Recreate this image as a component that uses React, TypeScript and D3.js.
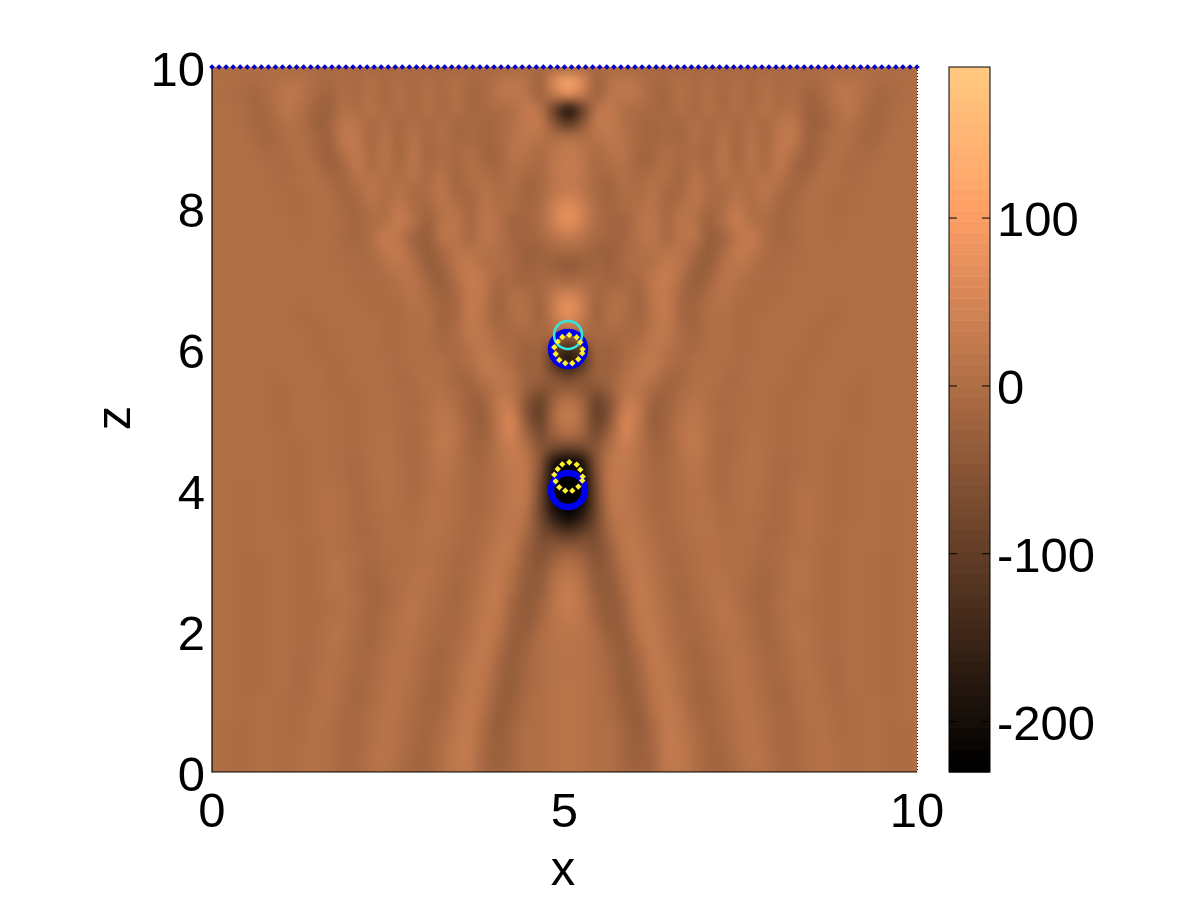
import React from "react";
import * as d3 from "d3";

// Field values. Each row is one z level (10 down to 0, step 0.2);
// each column is a distance from the central axis (0 to 5, step 0.2). The field is mirror-symmetric.
const fieldRows: number[][] = [
  [-20,-12,-10,-6,-8,-10,-7,-10,-8,-7,-8,-7,-8,-7,-7,-8,-7,-7,-6,-6,-5,-5,-5,-4,-3,-3],
  [140,70,-28,8,24,10,-7,-12,8,-9,6,-11,4,-11,7,-7,4,-9,-6,11,8,3,-6,-4,0,0],
  [80,30,-32,14,24,16,-8,-14,11,-11,11,-14,8,-14,11,-8,6,-22,-11,14,20,3,-14,-8,-3,0],
  [-230,-100,20,28,-4,-3,-11,-17,7,-14,14,-17,11,-11,14,-6,8,-30,-20,6,21,-3,-20,-6,0,3],
  [-120,-50,28,30,0,-11,-17,-6,-17,8,-17,11,-14,8,-11,14,21,-24,-30,0,11,-11,-17,-3,3,4],
  [18,6,8,24,7,-8,-14,-8,-20,11,-17,14,-20,14,-14,20,32,-30,-8,6,3,-14,-8,0,4,3],
  [30,18,-6,8,14,-14,-20,6,-11,-6,-14,20,-22,20,-11,28,8,-32,-7,8,-6,-11,-4,3,3,1],
  [34,20,-8,3,11,-17,-8,11,-20,11,-14,22,-11,14,-8,32,-17,-30,3,6,-8,-6,0,3,1,0],
  [28,15,-12,-20,8,-11,8,6,-22,20,-8,11,6,0,14,11,-20,-8,8,0,-6,-3,3,3,0,0],
  [36,20,-8,-25,6,-3,14,-14,-11,21,-6,-11,17,-6,20,-7,-17,0,6,-3,-3,0,3,1,0,0],
  [76,40,-6,-17,-6,0,17,-20,11,14,-20,-3,30,-3,8,-14,-7,3,3,-3,-1,0,1,0,0,0],
  [84,45,-3,-14,-25,8,25,-20,20,11,-28,8,34,0,-6,-20,-3,3,0,-1,0,1,1,0,0,0],
  [32,14,-12,-20,-20,11,22,-17,17,22,-34,-26,18,34,3,-14,-8,3,0,-1,0,1,0,0,0,0],
  [-6,-12,-25,-28,-8,6,11,11,14,-8,-38,-11,26,20,-6,-8,-4,1,0,0,0,0,0,0,0,0],
  [-50,-28,-14,-30,-6,3,6,28,14,-26,-36,8,24,8,-8,-6,-1,1,0,1,0,0,0,0,0,0],
  [-15,-12,-8,-22,-8,-11,20,36,6,-36,-20,14,11,-3,-6,-3,0,3,0,1,0,0,0,0,0,0],
  [44,20,-16,-6,3,-25,25,28,-8,-32,-6,14,3,-6,-4,-1,1,3,1,0,0,0,0,0,0,0],
  [90,40,-32,11,11,-28,14,36,-14,-14,6,8,-4,-6,-3,0,3,3,0,-1,0,0,0,0,0,0],
  [66,25,-24,8,-6,-17,8,30,-8,-22,8,3,-4,-4,0,1,3,0,-1,-1,0,1,0,0,0,0],
  [-10,-6,-8,-11,-11,-11,20,20,-6,-20,6,3,-6,-3,1,3,1,-1,-3,0,1,1,0,0,0,0],
  [-170,-100,-10,-30,-6,6,22,11,-11,-11,3,4,-6,-1,3,3,0,-3,-1,0,1,0,0,0,0,0],
  [-200,-130,-14,-32,-3,18,26,0,-11,0,6,0,-6,0,4,1,-1,-3,0,1,1,0,0,0,0,0],
  [-80,-50,-26,-24,10,20,16,-14,-14,3,8,-3,-7,1,4,0,-3,-3,1,3,0,-1,0,0,0,0],
  [-15,-40,-65,-32,18,16,-10,-22,-6,8,6,-6,-6,3,4,-1,-4,-1,3,3,-1,-1,0,1,0,0],
  [30,-6,-110,-55,38,26,-28,-22,6,16,3,-8,-4,4,4,-3,-4,0,4,1,-1,-1,0,1,0,0],
  [38,0,-105,-48,60,24,-38,-20,11,22,3,-6,-6,4,6,-3,-6,0,6,1,-3,-1,1,1,0,0],
  [12,-20,-85,-14,58,16,-32,-16,14,24,0,-8,-3,7,4,-4,-6,1,6,0,-3,0,1,0,0,0],
  [-80,-70,-50,12,38,12,-20,-14,11,26,0,-10,-1,8,3,-6,-4,3,6,-1,-3,0,3,0,0,0],
  [-230,-210,-45,22,28,10,-16,-8,8,18,0,-10,0,8,1,-7,-3,4,4,-3,-3,1,3,0,0,0],
  [-230,-230,-55,32,24,8,-10,-8,6,13,3,-10,1,9,0,-8,-1,6,3,-3,-3,1,3,0,0,0],
  [-230,-230,-70,28,22,6,-8,-10,3,10,6,-8,3,8,-1,-8,0,7,3,-4,-3,3,3,-1,0,0],
  [-230,-220,-75,22,20,8,-8,-13,3,8,8,-6,4,7,-4,-8,1,7,1,-4,-1,3,1,-1,0,0],
  [-220,-170,-75,10,22,12,-6,-13,0,8,10,-3,4,6,-6,-8,3,7,0,-6,-1,4,1,-1,0,0],
  [-120,-95,-72,-6,24,18,-3,-13,-3,8,10,0,6,3,-8,-7,4,7,0,-6,0,4,0,-1,0,1],
  [-40,-45,-64,-22,22,20,3,-13,-6,6,12,3,4,0,-10,-6,6,8,-1,-6,0,4,0,-3,0,1],
  [5,-14,-55,-32,14,24,8,-10,-8,3,10,6,3,-3,-13,-4,7,8,-3,-6,1,4,-1,-3,1,1],
  [22,2,-46,-38,4,28,12,-6,-13,0,8,8,3,-6,-14,-3,8,7,-3,-6,1,3,-1,-3,1,1],
  [34,12,-36,-42,-6,30,15,-3,-14,-3,8,10,3,-7,-16,-1,9,7,-4,-6,3,3,-3,-3,3,1],
  [36,18,-26,-44,-14,28,19,0,-14,-6,6,13,4,-7,-16,0,11,6,-6,-6,3,3,-3,-3,3,0],
  [28,18,-14,-40,-24,22,24,3,-11,-8,0,13,7,-6,-16,-3,11,6,-6,-4,4,3,-3,-1,3,0],
  [18,14,-6,-34,-32,14,27,6,-8,-11,-3,11,10,-3,-15,-6,10,7,-6,-4,4,3,-4,-1,3,0],
  [14,12,0,-26,-36,4,27,11,-6,-14,-6,8,12,0,-14,-8,7,8,-4,-6,4,4,-4,-1,3,0],
  [12,12,3,-20,-38,-8,26,16,-3,-16,-8,6,14,3,-11,-11,4,10,-3,-7,3,4,-3,-3,3,0],
  [12,10,5,-12,-38,-18,22,21,0,-16,-11,3,14,6,-8,-12,1,10,0,-7,1,6,-3,-3,3,1],
  [14,10,5,-8,-34,-26,15,25,6,-16,-14,0,12,8,-6,-14,-1,10,3,-7,0,6,-1,-4,3,1],
  [14,10,5,-4,-28,-32,8,28,11,-14,-18,-3,11,11,-3,-14,-4,8,4,-6,-1,6,0,-4,1,3],
  [14,10,5,-2,-24,-34,0,30,14,-8,-20,-6,8,12,0,-12,-7,7,7,-4,-4,6,1,-4,0,3],
  [14,10,5,0,-20,-34,-8,30,18,-6,-20,-8,6,14,3,-11,-8,6,8,-3,-6,4,3,-3,-1,3],
  [14,10,5,0,-16,-32,-12,28,21,0,-20,-11,3,14,6,-10,-10,4,10,0,-6,3,4,-3,-3,3],
  [14,10,5,0,-14,-28,-16,26,24,3,-18,-14,0,14,7,-8,-11,3,10,1,-6,1,6,-3,-3,3],
  [14,10,5,0,-12,-24,-18,24,24,6,-16,-14,-1,12,8,-7,-11,1,10,3,-6,0,6,-1,-3,3],
];
const rowZ: number[] = fieldRows.map((_, i) => 10 - i * 0.2);
const axisOffsets: number[] = fieldRows[0].map((_, j) => j * 0.2);

const fieldCentreX = 5.05;
const xTicks = [0, 5, 10];
const zTicks = [0, 2, 4, 6, 8, 10];
const barTicks = [100, 0, -100, -200];
const barDomain: [number, number] = [-230, 190];

const topPointsX: number[] = Array.from({ length: 101 }, (_, i) => i / 10);
const ringCentresX = [5.05, 5.05];
const ringCentresZ = [6, 4];
const cyanCentreX = [5.05];
const cyanCentreZ = [6.2];
const yellowX = [5.068,5.173,5.224,5.258,5.252,5.196,5.111,5.011,4.926,4.875,4.855,4.904,4.969];
const yellowUpperZ = [6.199,6.166,6.095,5.996,5.939,5.854,5.797,5.797,5.844,5.929,6.024,6.104,6.170];
const yellowLowerZ = [4.393,4.360,4.289,4.190,4.133,4.048,3.991,3.991,4.038,4.123,4.218,4.298,4.364];

const LEVELS = 64;
const copper = (t: number) => {
  const q = Math.min(LEVELS - 1, Math.max(0, Math.floor(t * LEVELS))) / (LEVELS - 1);
  const r = Math.min(1, 1.25 * q), g = 0.7812 * q, b = 0.4975 * q;
  return d3.rgb(r * 255, g * 255, b * 255).formatHex();
};

const L = 212, R = 917, T = 67, B = 772;
const x = d3.scaleLinear().domain([0, 10]).range([L, R]);
const z = d3.scaleLinear().domain([0, 10]).range([B, T]);
const barY = d3.scaleLinear().domain(barDomain).range([B, T]);
const tone = d3.scaleLinear().domain(barDomain).range([0, 1]).clamp(true);
const color = (v: number) => copper(tone(v));
const diamond = (cx: number, cy: number, r: number) =>
  `M${cx},${cy - r}L${cx + r},${cy}L${cx},${cy + r}L${cx - r},${cy}Z`;

const font = "'Liberation Sans', Arial, sans-serif";
const FS = 49;

export default function App() {
  const cellW = Math.abs(x(0.2) - x(0));
  const cellH = Math.abs(z(0) - z(0.2));
  const cells: React.ReactNode[] = [];
  fieldRows.forEach((row, i) => {
    axisOffsets.forEach((d, j) => {
      const v = row[j] ?? 0;
      const sides = d === 0 ? [fieldCentreX] : [fieldCentreX - d, fieldCentreX + d];
      sides.forEach((sx, k) => {
        cells.push(
          <rect key={`${i}-${j}-${k}`} x={x(sx) - cellW / 2} y={z(rowZ[i]) - cellH / 2}
            width={cellW + 0.5} height={cellH + 0.5} fill={color(v)} />
        );
      });
    });
  });
  const bands = d3.range(LEVELS);
  const bandH = (B - T) / LEVELS;
  const barX0 = 949, barX1 = 990;

  return (
    <svg width={1200} height={900} style={{ position: "absolute", left: 0, top: 0, background: "#fff" }}>
      <defs>
        <clipPath id="plot"><rect x={L} y={T} width={R - L} height={B - T} /></clipPath>
        <filter id="soft" filterUnits="userSpaceOnUse" x={100} y={0} width={950} height={850} colorInterpolationFilters="sRGB">
          <feGaussianBlur stdDeviation={6.5} />
        </filter>
      </defs>
      <g clipPath="url(#plot)">
        <g filter="url(#soft)">
          <rect x={L - 40} y={T - 40} width={R - L + 80} height={B - T + 80} fill={color(0)} />
          {cells}
        </g>
      </g>
      <line x1={L} y1={T} x2={L} y2={B + 0.5} stroke="#000" strokeWidth={1.2} />
      <line x1={L} y1={B} x2={R} y2={B} stroke="#000" strokeWidth={1.2} />
      <line x1={R + 0.5} y1={T} x2={R + 0.5} y2={B} stroke="#000" strokeWidth={1} strokeDasharray="1 2" />

      {ringCentresX.map((cx, i) => (
        <circle key={i} cx={x(cx)} cy={z(ringCentresZ[i])} r={17} fill="none" stroke="#0000f0" strokeWidth={6.5} />
      ))}
      {cyanCentreX.map((cx, i) => (
        <circle key={i} cx={x(cx)} cy={z(cyanCentreZ[i])} r={14} fill="none" stroke="#30e8e0" strokeWidth={2.5} />
      ))}
      {yellowX.map((px, i) => (
        <path key={`u${i}`} d={diamond(x(px), z(yellowUpperZ[i]), 3.2)} fill="#fff030" />
      ))}
      {yellowX.map((px, i) => (
        <path key={`l${i}`} d={diamond(x(px), z(yellowLowerZ[i]), 3.2)} fill="#fff030" />
      ))}
      {topPointsX.map((px, i) => (
        <path key={`t${i}`} d={diamond(x(px), z(10), 2.8)} fill="#0000c8" />
      ))}

      {bands.map((b) => (
        <rect key={b} x={barX0} y={B - (b + 1) * bandH} width={barX1 - barX0} height={bandH + 0.5}
          fill={copper((b + 0.5) / LEVELS)} />
      ))}
      <rect x={barX0} y={T} width={barX1 - barX0} height={B - T} fill="none" stroke="#000" strokeWidth={1} />
      {barTicks.map((t) => (
        <g key={t}>
          <line x1={barX0} x2={barX0 + 8} y1={barY(t)} y2={barY(t)} stroke="#000" strokeWidth={1} />
          <line x1={barX1 - 8} x2={barX1} y1={barY(t)} y2={barY(t)} stroke="#000" strokeWidth={1} />
          <text x={997} y={barY(t) + 18} fontFamily={font} fontSize={FS} fill="#000">{t}</text>
        </g>
      ))}

      {xTicks.map((t) => (
        <text key={t} x={x(t)} y={827} textAnchor="middle" fontFamily={font} fontSize={FS} fill="#000">{t}</text>
      ))}
      {zTicks.map((t) => (
        <text key={t} x={205} y={z(t) + 19} textAnchor="end" fontFamily={font} fontSize={FS} fill="#000">{t}</text>
      ))}
      <text x={563} y={885} textAnchor="middle" fontFamily={font} fontSize={FS} fill="#000">x</text>
      <text transform="translate(130,418) rotate(-90)" textAnchor="middle" fontFamily={font} fontSize={FS} fill="#000">z</text>
    </svg>
  );
}
